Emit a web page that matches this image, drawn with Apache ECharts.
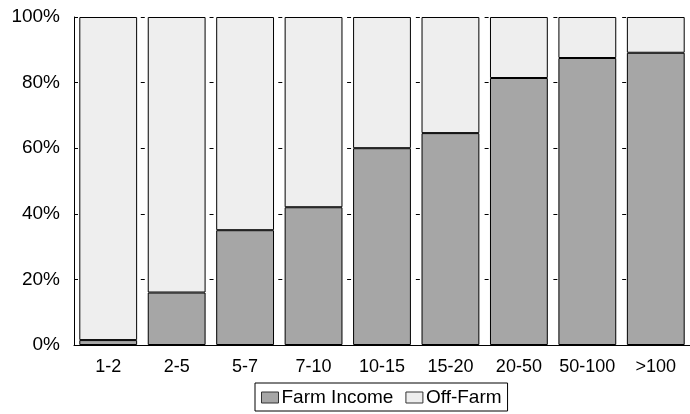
<!DOCTYPE html>
<html>
<head>
<meta charset="utf-8">
<script src="https://cdn.jsdelivr.net/npm/echarts@6/dist/echarts.min.js"></script>
<style>html,body{margin:0;padding:0;background:#fff}#c{width:690px;height:414px}</style>
</head>
<body>
<div id="c"></div>
<script>
var categories = ['1-2','2-5','5-7','7-10','10-15','15-20','20-50','50-100','>100'];
var farmIncome = [1.5, 16, 35, 42, 60, 64.6, 81.4, 87.5, 89.1];
var offFarm = [98.5, 84, 65, 58, 40, 35.4, 18.6, 12.5, 10.9];
var yTicks = [0, 20, 40, 60, 80, 100];

var chart = echarts.init(document.getElementById('c'));
var font = 'Liberation Sans, Arial, sans-serif';
chart.setOption({
  animation: false,
  textStyle: {fontFamily: font},
  grid: {left: 74, top: 17, width: 619, bottom: 69, containLabel: false},
  legend: {
    data: ['Farm Income', 'Off-Farm'],
    left: 255, top: 383,
    icon: 'rect', itemWidth: 17, itemHeight: 11, itemGap: 12,
    borderColor: '#000', borderWidth: 1,
    padding: [5, 6, 4, 6],
    itemStyle: {borderColor: '#333', borderWidth: 1},
    textStyle: {fontSize: 19, color: '#000', fontFamily: font, padding: [0,0,0,-2]}
  },
  xAxis: {
    type: 'category', data: categories,
    axisLine: {lineStyle: {color: '#000', width: 1}},
    axisTick: {show: false},
    axisLabel: {color: '#000', fontSize: 18, margin: 13, fontFamily: font, interval: 0, hideOverlap: false}
  },
  yAxis: {
    type: 'value', min: 0, max: 100, interval: 20,
    axisLine: {show: true, lineStyle: {color: '#000', width: 1}},
    axisTick: {show: true, inside: true, length: 4, lineStyle: {color: '#000'}},
    axisLabel: {color: '#000', fontSize: 19, margin: 14, fontFamily: font,
      formatter: function (v) { return yTicks.indexOf(v) >= 0 ? v + '%' : ''; }},
    splitLine: {show: true, lineStyle: {color: '#000', width: 1, type: [4, 64.77], dashOffset: 2}}
  },
  series: [
    {name: 'Farm Income', type: 'bar', stack: 'a', data: farmIncome, barCategoryGap: '15.5%',
     itemStyle: {color: '#a6a6a6', borderColor: '#000', borderWidth: 1}},
    {name: 'Off-Farm', type: 'bar', stack: 'a', data: offFarm, barCategoryGap: '15.5%',
     itemStyle: {color: '#eeeeee', borderColor: '#000', borderWidth: 1}}
  ]
});
</script>
</body>
</html>
